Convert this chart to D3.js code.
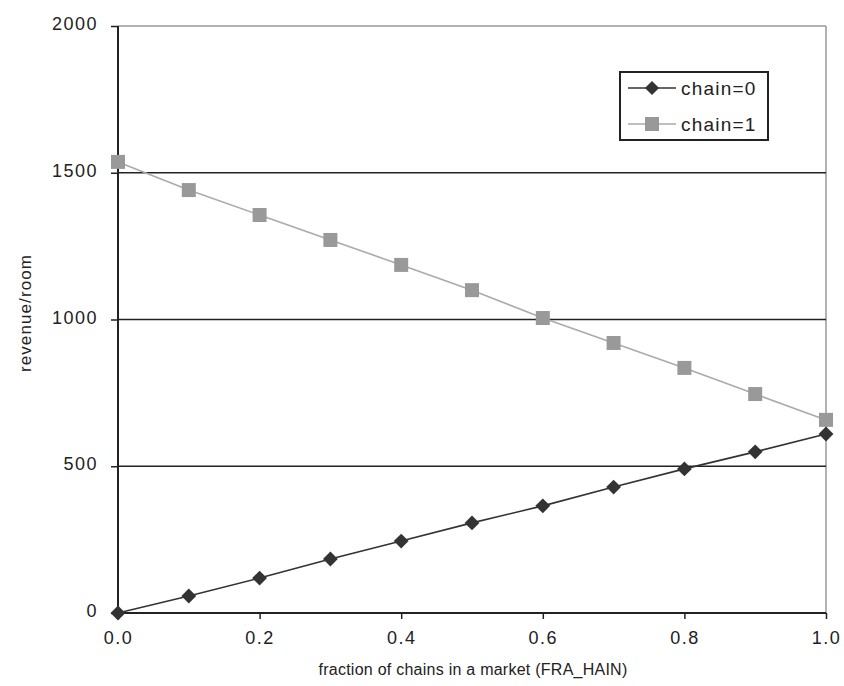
<!DOCTYPE html>
<html>
<head>
<meta charset="utf-8">
<script src="https://cdn.jsdelivr.net/npm/d3@7"></script>
<style>
  body { margin: 0; background: #fff; }
  text { font-family: "Liberation Sans", Arial, sans-serif; }
</style>
</head>
<body>
<div id="chart"></div>
<script>
// data
const fractions = [0, 0.1, 0.2, 0.3, 0.4, 0.5, 0.6, 0.7, 0.8, 0.9, 1.0];
const chain0 = [0, 58, 119, 184, 245, 307, 365, 429, 491, 549, 610];
const chain1 = [1537, 1441, 1356, 1271, 1186, 1100, 1005, 920, 835, 746, 658];
const yTicks = [0, 500, 1000, 1500, 2000];
const xTicks = [0, 0.2, 0.4, 0.6, 0.8, 1.0];

const W = 844, H = 686;
const margin = { top: 26, right: 18, bottom: 73, left: 118 };
const width = W - margin.left - margin.right;
const height = H - margin.top - margin.bottom;

const svg = d3.select("#chart").append("svg")
    .attr("width", W)
    .attr("height", H);

const g = svg.append("g")
    .attr("transform", `translate(${margin.left},${margin.top})`);

const x = d3.scaleLinear().domain([0, 1]).range([0, width]);
const y = d3.scaleLinear().domain([0, 2000]).range([height, 0]);

// frame: top and right gray
g.append("line").attr("x1", 0).attr("x2", width).attr("y1", 0).attr("y2", 0)
    .attr("stroke", "#999").attr("stroke-width", 1.5);
g.append("line").attr("x1", width).attr("x2", width).attr("y1", 0).attr("y2", height)
    .attr("stroke", "#999").attr("stroke-width", 1.5);

// horizontal grid lines
g.selectAll(".grid")
    .data(yTicks.filter(d => d > 0 && d < 2000))
    .enter().append("line")
    .attr("class", "grid")
    .attr("x1", 0).attr("x2", width)
    .attr("y1", d => y(d)).attr("y2", d => y(d))
    .attr("stroke", "#222").attr("stroke-width", 1.5);

// axes
const yAxis = g.append("g")
    .call(d3.axisLeft(y).tickValues(yTicks).tickSize(7).tickPadding(13).tickFormat(d3.format("d")));
const xAxis = g.append("g")
    .attr("transform", `translate(0,${height})`)
    .call(d3.axisBottom(x).tickValues(xTicks).tickSize(6).tickPadding(12).tickFormat(d3.format(".1f")));

[yAxis, xAxis].forEach(a => {
    a.select(".domain").attr("stroke", "#222").attr("stroke-width", 2);
    a.selectAll(".tick line").attr("stroke", "#222").attr("stroke-width", 1.5);
    a.selectAll(".tick text").attr("fill", "#222")
        .style("font-size", "18px").style("letter-spacing", "1.5px")
        .style("font-family", "Liberation Sans, Arial, sans-serif");
});
yAxis.select(".domain").attr("d", `M0,${height}V0`);
xAxis.select(".domain").attr("d", `M0,0H${width}`);
yAxis.selectAll(".tick text").attr("dy", "0.2em");

const line = d3.line()
    .x((d, i) => x(fractions[i]))
    .y(d => y(d));

// chain=1 series (gray squares)
g.append("path").datum(chain1)
    .attr("d", line).attr("fill", "none")
    .attr("stroke", "#aaa").attr("stroke-width", 1.6);
g.selectAll(".sq").data(chain1).enter().append("rect")
    .attr("class", "sq")
    .attr("x", (d, i) => x(fractions[i]) - 7)
    .attr("y", d => y(d) - 7)
    .attr("width", 14).attr("height", 14)
    .attr("fill", "#999");

// chain=0 series (dark diamonds)
g.append("path").datum(chain0)
    .attr("d", line).attr("fill", "none")
    .attr("stroke", "#333").attr("stroke-width", 1.6);
g.selectAll(".dm").data(chain0).enter().append("path")
    .attr("class", "dm")
    .attr("d", d3.symbol().type(d3.symbolSquare).size(110))
    .attr("transform", (d, i) => `translate(${x(fractions[i])},${y(d)}) rotate(45)`)
    .attr("fill", "#333");

// legend
const leg = svg.append("g").attr("transform", "translate(620,72)");
leg.append("rect").attr("width", 148).attr("height", 68)
    .attr("fill", "#fff").attr("stroke", "#222").attr("stroke-width", 2);
const legItems = [
    { label: "chain=0", color: "#333", stroke: "#333", shape: "diamond" },
    { label: "chain=1", color: "#999", stroke: "#aaa", shape: "square" }
];
legItems.forEach((it, i) => {
    const cy = 16 + i * 36;
    leg.append("line").attr("x1", 8).attr("x2", 56).attr("y1", cy).attr("y2", cy)
        .attr("stroke", it.stroke).attr("stroke-width", 1.6);
    if (it.shape === "diamond") {
        leg.append("path")
            .attr("d", d3.symbol().type(d3.symbolSquare).size(100))
            .attr("transform", `translate(32,${cy}) rotate(45)`)
            .attr("fill", it.color);
    } else {
        leg.append("rect").attr("x", 25).attr("y", cy - 7).attr("width", 14).attr("height", 14)
            .attr("fill", it.color);
    }
    leg.append("text").attr("x", 61).attr("y", cy + 7)
        .attr("fill", "#222").style("font-size", "19px").style("letter-spacing", "1.2px")
        .text(it.label);
});

// axis titles
svg.append("text")
    .attr("transform", `translate(31,313) rotate(-90)`)
    .attr("text-anchor", "middle")
    .attr("fill", "#222").style("font-size", "17px").style("letter-spacing", "1.1px")
    .text("revenue/room");
svg.append("text")
    .attr("x", 473).attr("y", 675)
    .attr("text-anchor", "middle")
    .attr("fill", "#222").style("font-size", "16px").style("letter-spacing", "0.25px")
    .text("fraction of chains in a market (FRA_HAIN)");
</script>
</body>
</html>
